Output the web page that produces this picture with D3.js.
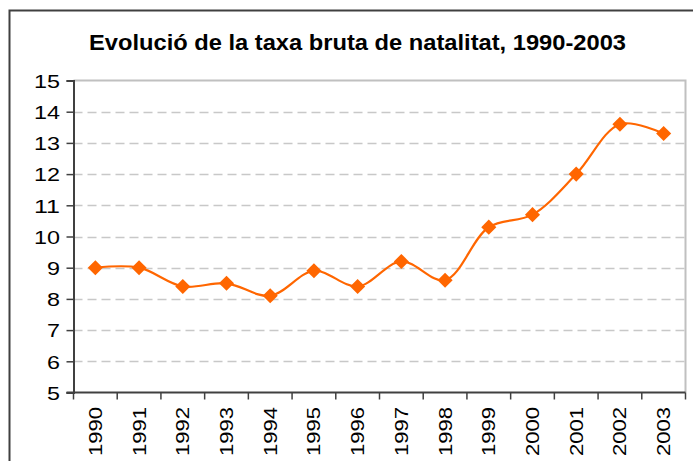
<!DOCTYPE html>
<html>
<head>
<meta charset="utf-8">
<script src="https://cdn.jsdelivr.net/npm/d3@7"></script>
<style>
  html, body { margin: 0; padding: 0; background: #fff; }
  svg { display: block; }
  text { font-family: "Liberation Sans", Arial, sans-serif; fill: #000; }
</style>
</head>
<body>
<svg id="chart" width="693" height="461"></svg>
<script>
const title = "Evolució de la taxa bruta de natalitat, 1990-2003";
const years = ["1990","1991","1992","1993","1994","1995","1996","1997","1998","1999","2000","2001","2002","2003"];
const rates = [9.0, 9.0, 8.4, 8.5, 8.1, 8.9, 8.4, 9.2, 8.6, 10.3, 10.7, 12.0, 13.6, 13.3];
const yTicks = [5, 6, 7, 8, 9, 10, 11, 12, 13, 14, 15];

const svg = d3.select("#chart");
const W = 693, H = 461;
const m = { left: 73.5, right: 685.5, top: 80.5, bottom: 392.5 };

// outer chart border (left and top visible)
svg.append("path")
  .attr("d", `M9.5,${H} L9.5,10.5 L${W},10.5`)
  .attr("fill", "none").attr("stroke", "#404040").attr("stroke-width", 2);

// title
svg.append("text")
  .attr("x", 89).attr("y", 49.5)
  .attr("textLength", 537).attr("lengthAdjust", "spacingAndGlyphs")
  .style("font-size", "22px").style("font-weight", "bold")
  .text(title);

const x = d3.scaleBand().domain(years).range([m.left, m.right]).padding(0);
const y = d3.scaleLinear().domain([5, 15]).range([m.bottom, m.top]);

// plot area border top/right (gray)
svg.append("path")
  .attr("d", `M${m.left},${m.top} L${m.right},${m.top} L${m.right},${m.bottom}`)
  .attr("fill", "none").attr("stroke", "#c0c0c0").attr("stroke-width", 2);

// gridlines
svg.append("g").selectAll("line")
  .data(yTicks.filter(t => t > 5 && t < 15))
  .join("line")
  .attr("x1", m.left).attr("x2", m.right)
  .attr("y1", d => Math.round(y(d)) + 0.5).attr("y2", d => Math.round(y(d)) + 0.5)
  .attr("stroke", "#c8c8c8").attr("stroke-width", 1.5)
  .attr("stroke-dasharray", "9,5");

// y axis
const yAxis = d3.axisLeft(y).tickValues(yTicks).tickSize(7).tickFormat(d3.format("d"));
const gy = svg.append("g").attr("transform", `translate(${m.left},0)`).call(yAxis);
gy.select(".domain").attr("stroke", "#404040").attr("stroke-width", 2);
gy.selectAll(".tick line").attr("stroke", "#404040").attr("stroke-width", 1.5);
gy.selectAll(".tick text")
  .attr("x", -13.5).attr("dy", "0.36em")
  .style("font-size", "19px")
  .attr("textLength", d => String(d).length * 13)
  .attr("lengthAdjust", "spacingAndGlyphs");

// x axis (ticks between categories)
const gx = svg.append("g");
gx.append("line")
  .attr("x1", m.left - 7).attr("x2", m.right)
  .attr("y1", m.bottom).attr("y2", m.bottom)
  .attr("stroke", "#404040").attr("stroke-width", 2);
const bounds = years.map(d => x(d)).concat([x(years[years.length - 1]) + x.bandwidth()]);
gx.selectAll("line.tk").data(bounds).join("line").attr("class", "tk")
  .attr("x1", d => d).attr("x2", d => d)
  .attr("y1", m.bottom).attr("y2", m.bottom + 7)
  .attr("stroke", "#404040").attr("stroke-width", 1.5);
gx.selectAll("text").data(years).join("text")
  .attr("transform", d => `translate(${x(d) + x.bandwidth() / 2 + 6.5},407) rotate(-90)`)
  .attr("text-anchor", "end")
  .style("font-size", "18.5px")
  .attr("textLength", 49).attr("lengthAdjust", "spacingAndGlyphs")
  .text(d => d);

// line
const cx = d => x(d) + x.bandwidth() / 2;
const line = d3.line()
  .x((d, i) => cx(years[i]))
  .y(d => y(d))
  .curve(d3.curveCatmullRom.alpha(0.5));
svg.append("path")
  .datum(rates)
  .attr("d", line)
  .attr("fill", "none").attr("stroke", "#ff6600").attr("stroke-width", 2.2);

// markers
const sym = d3.symbol().type(d3.symbolDiamond2).size(145);
svg.append("g").selectAll("path")
  .data(rates)
  .join("path")
  .attr("transform", (d, i) => `translate(${cx(years[i])},${y(d)})`)
  .attr("d", sym)
  .attr("fill", "#ff6600");
</script>
</body>
</html>
